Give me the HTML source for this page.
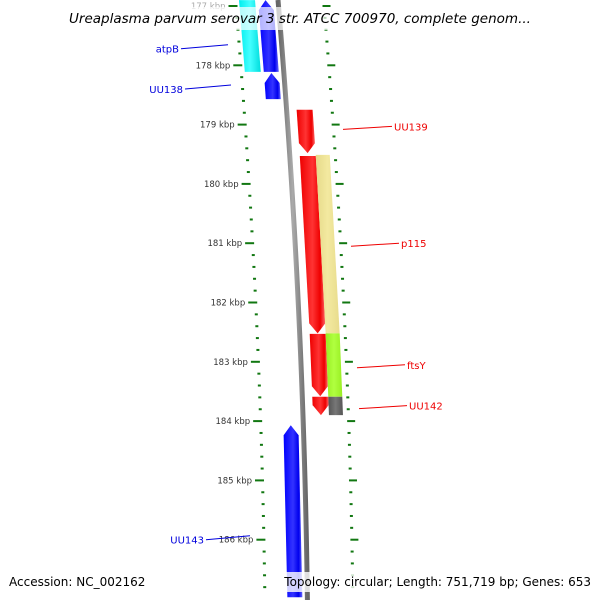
<!DOCTYPE html>
<html><head><meta charset="utf-8"><style>
body{margin:0;background:#fff;}
svg{display:block;font-family:"DejaVu Sans","Liberation Sans",sans-serif;}
</style></head><body>
<svg id="map" width="600" height="600" viewBox="0 0 600 600">
<defs>
<linearGradient id="gBlue" x1="0" x2="1"><stop offset="0" stop-color="#0000ff"/><stop offset="0.5" stop-color="#3333ff"/><stop offset="0.8" stop-color="#0000ee"/><stop offset="1" stop-color="#6666ff"/></linearGradient>
<linearGradient id="gCyan" x1="0" x2="1"><stop offset="0" stop-color="#00eeee"/><stop offset="0.5" stop-color="#44ffff"/><stop offset="1" stop-color="#00dddd"/></linearGradient>
<linearGradient id="gRed" x1="0" x2="1"><stop offset="0" stop-color="#ee0000"/><stop offset="0.5" stop-color="#ff3333"/><stop offset="0.8" stop-color="#ee0000"/><stop offset="1" stop-color="#ff6666"/></linearGradient>
<linearGradient id="gYel" x1="0" x2="1"><stop offset="0" stop-color="#e6da8a"/><stop offset="0.5" stop-color="#f3e9a0"/><stop offset="1" stop-color="#e8dc8c"/></linearGradient>
<linearGradient id="gGrn" x1="0" x2="1"><stop offset="0" stop-color="#99ee22"/><stop offset="0.5" stop-color="#b0ff40"/><stop offset="1" stop-color="#99ee22"/></linearGradient>
<linearGradient id="gGray" x1="0" x2="1"><stop offset="0" stop-color="#555"/><stop offset="0.5" stop-color="#777"/><stop offset="1" stop-color="#555"/></linearGradient>
<linearGradient id="gBack" x1="0" x2="1"><stop offset="0" stop-color="#666"/><stop offset="0.5" stop-color="#aaa"/><stop offset="1" stop-color="#666"/></linearGradient>
</defs>
<g id="layer"></g>
</svg>
<script>
// data
const tickKbp = [177,178,179,180,181,182,183,184,185,186];
const geneNames = ["atpB-gene","atpB-blue","UU138","UU139","red-2","p115","ftsY-red","UU142-red","yellow-block","ftsY-block","UU142-block","UU143"];
const geneStarts = [176.9,176.9,178.13,178.75,179.53,179.51,182.53,183.59,179.51,182.52,183.59,184.07];
const geneEnds = [178.11,178.11,178.57,179.48,182.52,182.52,183.58,183.9,182.52,183.59,183.9,186.97];
const geneTrack = ["cyan","blue","blue","red","red","none","red","red","yel","grn","gray","blue"];
const geneDir = [0,-1,-1,1,1,0,1,1,0,0,0,-1];
const labelTexts = ["atpB","UU138","UU139","p115","ftsY","UU142","UU143"];
const labelKbp = [177.72,178.4,179.03,181.0,183.05,183.74,186.0];

const NS="http://www.w3.org/2000/svg";
const layer=document.getElementById('layer');
const yOf=k=>6+(k-177)*59.3;
const g=y=>0.085*y-0.00006*y*y;
const trackX={cyan:239,blue:258,red:288,yel:304,grn:304,gray:304};
const trackW={cyan:16,blue:15,red:16,yel:14,grn:14,gray:14};
const fills={cyan:"url(#gCyan)",blue:"url(#gBlue)",red:"url(#gRed)",yel:"url(#gYel)",grn:"url(#gGrn)",gray:"url(#gGray)"};
function mk(t,a){const e=document.createElementNS(NS,t);for(const k in a)e.setAttribute(k,a[k]);layer.appendChild(e);return e;}

// backbone
let bp="";for(let y=0;y<=600;y+=10){bp+=(y?"L":"M")+(278+g(y))+" "+y;}
const bb=mk('path',{d:bp,stroke:"url(#gBack)","stroke-width":5,fill:"none"});



// ticks
for(let k=176.8;k<=187.05;k+=0.2){
  const kk=Math.round(k*10)/10;const y=yOf(kk);if(y<0||y>598)continue;
  const major=Math.abs(kk-Math.round(kk))<0.01;
  const xl=234+g(y), xr=322+g(y);
  const a=mk('rect',{x:major?xl-6:xl,y:y-1,width:major?9:3,height:2,fill:"#117711"});
  
  
  const b=mk('rect',{x:xr,y:y-1,width:major?8:3,height:2,fill:"#117711"});
  
  
}
tickKbp.forEach(k=>{const y=yOf(k);
  const t=mk('text',{x:225+g(y),y:y+3,"font-size":8.5,"text-anchor":"end",fill:k==177?"#aaa":"#333"});
  t.textContent=k+" kbp";
  
  });

// genes
geneStarts.forEach((s,i)=>{const tr=geneTrack[i];if(tr==="none")return;
  const y1=yOf(s),y2=yOf(geneEnds[i]);const d=geneDir[i];const A=10;
  const x=y=>trackX[tr]+g(y);const w=trackW[tr];
  let pts;
  if(d===1){pts=[[x(y1),y1],[x(y1)+w,y1],[x(y2-A)+w,y2-A],[x(y2)+w/2,y2],[x(y2-A),y2-A]];}
  else if(d===-1){pts=[[x(y1)+w/2,y1],[x(y1+A)+w,y1+A],[x(y2)+w,y2],[x(y2),y2],[x(y1+A),y1+A]];}
  else pts=[[x(y1),y1],[x(y1)+w,y1],[x(y2)+w,y2],[x(y2),y2]];
  const p=mk('polygon',{points:pts.map(q=>q.join(",")).join(" "),fill:fills[tr]});
  
  
});

// labels
const labelSide=["L","L","R","R","R","R","L"];
const labelCol=["#0000dd","#0000dd","#ee0000","#ee0000","#ee0000","#ee0000","#0000dd"];
const labelX=[179,183,394,401,407,409,204];
const lineEnd=[228,231,343,351,357,359,250];
labelTexts.forEach((t,i)=>{const y=yOf(labelKbp[i]);
  const ln=mk('line',{x1:labelSide[i]=="L"?labelX[i]+2:lineEnd[i],y1:y+(labelSide[i]=="L"?0:3),x2:labelSide[i]=="L"?lineEnd[i]:labelX[i]-2,y2:y+(labelSide[i]=="L"?-4:0),stroke:labelCol[i],"stroke-width":1});
  
  
  const tx=mk('text',{x:labelX[i],y:y+4,"font-size":10,fill:labelCol[i],"text-anchor":labelSide[i]=="L"?"end":"start"});
  tx.textContent=t;
  
  
});

// title & footer
const tb=mk('rect',{x:60,y:7,width:480,height:23,fill:"#fff","fill-opacity":0.7});


const ti=mk('text',{x:300,y:23,"font-size":13.5,"font-style":"italic","text-anchor":"middle",fill:"#000"});
ti.textContent="Ureaplasma parvum serovar 3 str. ATCC 700970, complete genom...";


const fb=mk('rect',{x:283,y:572,width:312,height:20,fill:"#fff","fill-opacity":0.8});


const f1=mk('text',{x:9,y:586,"font-size":12,fill:"#000"});
f1.textContent="Accession: NC_002162";


const f2=mk('text',{x:591,y:586,"font-size":12,"text-anchor":"end",fill:"#000"});
f2.textContent="Topology: circular; Length: 751,719 bp; Genes: 653";


</script>
</body></html>
